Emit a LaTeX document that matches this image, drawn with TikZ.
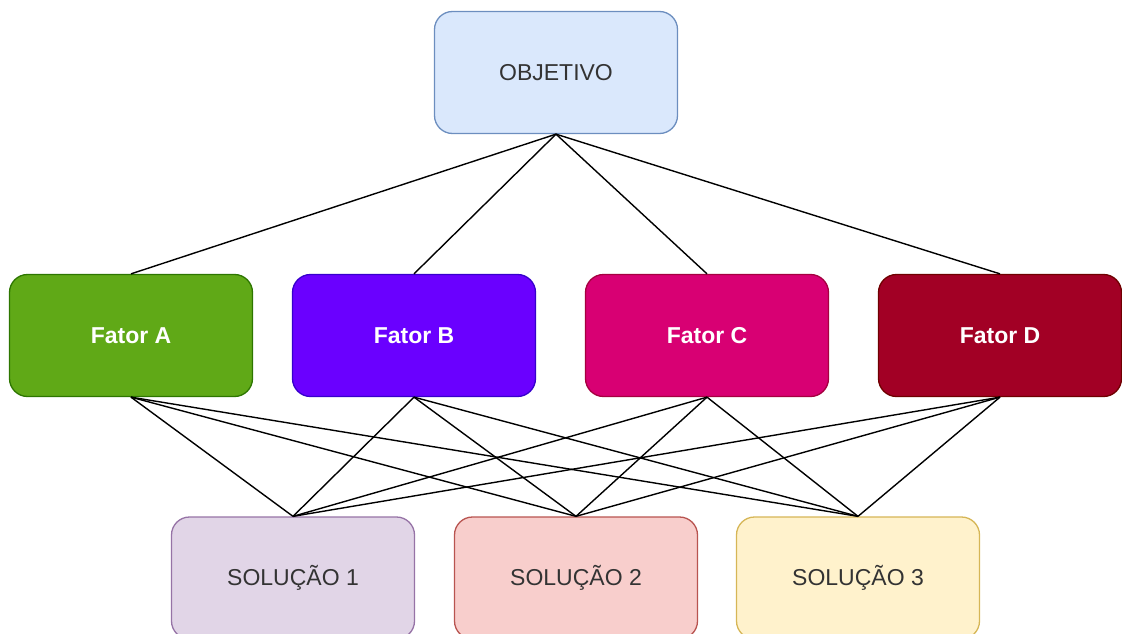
\documentclass[tikz,border=0pt]{standalone}
\usepackage{fontspec}
\setmainfont{Liberation Sans}
\definecolor{objfill}{HTML}{DAE8FC}\definecolor{objline}{HTML}{6C8EBF}
\definecolor{afill}{HTML}{60A917}\definecolor{aline}{HTML}{2D7600}
\definecolor{bfill}{HTML}{6A00FF}\definecolor{bline}{HTML}{3700CC}
\definecolor{cfill}{HTML}{D80073}\definecolor{cline}{HTML}{A50040}
\definecolor{dfill}{HTML}{A20025}\definecolor{dline}{HTML}{6F0000}
\definecolor{s1fill}{HTML}{E1D5E7}\definecolor{s1line}{HTML}{9673A6}
\definecolor{s2fill}{HTML}{F8CECC}\definecolor{s2line}{HTML}{B85450}
\definecolor{s3fill}{HTML}{FFF2CC}\definecolor{s3line}{HTML}{D6B656}
\definecolor{txt}{HTML}{333333}
\tikzset{
  box/.style={rectangle, rounded corners=18pt, line width=1.3pt,
    minimum width=243pt, minimum height=122pt, inner sep=0pt,
    font=\fontsize{23}{27}\selectfont},
  lightbox/.style={box, text=txt},
  factorbox/.style={box, text=white, font=\fontsize{23}{27}\selectfont\bfseries},
  link/.style={line width=1.4pt, black}
}
\begin{document}
\begin{tikzpicture}[x=1pt, y=-1pt]
  \useasboundingbox (0,0) rectangle (1122,634);
  % goal
  \node[lightbox, fill=objfill, draw=objline] (obj) at (556,72.5) {OBJETIVO};
  % factors
  \node[factorbox, fill=afill, draw=aline] (fa) at (131,335.5) {Fator A};
  \node[factorbox, fill=bfill, draw=bline] (fb) at (414,335.5) {Fator B};
  \node[factorbox, fill=cfill, draw=cline] (fc) at (707,335.5) {Fator C};
  \node[factorbox, fill=dfill, draw=dline] (fd) at (1000,335.5) {Fator D};
  % solutions
  \node[lightbox, fill=s1fill, draw=s1line] (s1) at (293,578) {SOLUÇÃO 1};
  \node[lightbox, fill=s2fill, draw=s2line] (s2) at (576,578) {SOLUÇÃO 2};
  \node[lightbox, fill=s3fill, draw=s3line] (s3) at (858,578) {SOLUÇÃO 3};
  % goal to factors
  \foreach \f in {fa,fb,fc,fd}
    \draw[link] (obj.south) -- (\f.north);
  % factors to solutions
  \foreach \f in {fa,fb,fc,fd}
    \foreach \s in {s1,s2,s3}
      \draw[link] (\f.south) -- (\s.north);
\end{tikzpicture}
\end{document}
